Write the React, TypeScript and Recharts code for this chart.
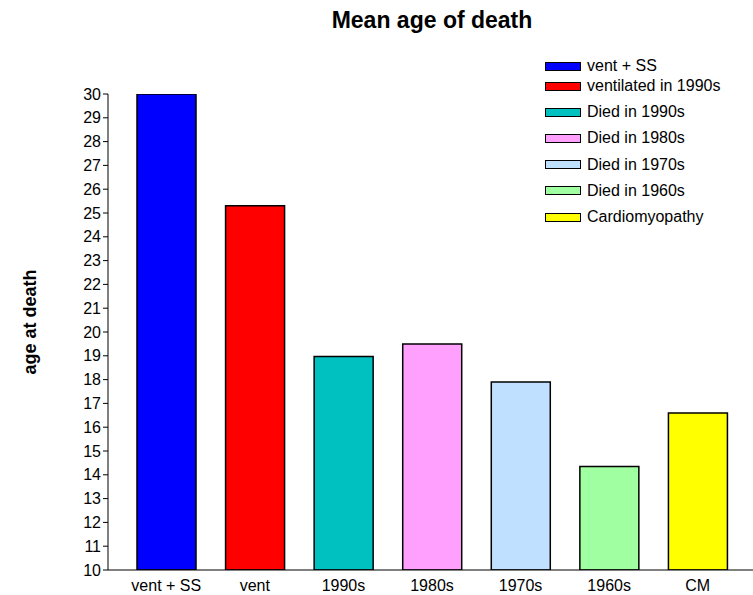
import { BarChart, Bar, XAxis, YAxis, Cell } from "recharts";

const categories = ["vent + SS", "vent", "1990s", "1980s", "1970s", "1960s", "CM"];
const meanAge = [30, 25.3, 18.97, 19.5, 17.9, 14.35, 16.6];
const legendNames = [
  "vent + SS",
  "ventilated in 1990s",
  "Died in 1990s",
  "Died in 1980s",
  "Died in 1970s",
  "Died in 1960s",
  "Cardiomyopathy",
];
const colors = ["#0000ff", "#ff0000", "#00c0c0", "#ffa0ff", "#c0e0ff", "#a0ffa0", "#ffff00"];
const yTicks = [10, 11, 12, 13, 14, 15, 16, 17, 18, 19, 20, 21, 22, 23, 24, 25, 26, 27, 28, 29, 30];

const data = categories.map((name, i) => ({ name, value: meanAge[i] }));

const FONT = "'Liberation Sans', Arial, sans-serif";

function ChartLegend() {
  return (
    <div
      style={{
        position: "absolute",
        left: 545,
        top: 56,
        fontFamily: FONT,
        fontSize: 16,
        color: "#000",
      }}
    >
      {legendNames.map((name, i) => (
        <div
          key={name}
          style={{ display: "flex", alignItems: "center", height: i === 0 ? 20 : 26.2, marginTop: i === 1 ? -3 : 0 }}
        >
          <span
            style={{
              display: "inline-block",
              width: 34,
              height: 7,
              background: colors[i],
              border: "1px solid #000",
              marginRight: 6,
            }}
          />
          <span>{name}</span>
        </div>
      ))}
    </div>
  );
}

export default function App() {
  return (
    <div style={{ position: "absolute", left: 0, top: 0, width: 753, height: 595, background: "#fff" }}>
      <BarChart
        width={753}
        height={595}
        data={data}
        margin={{ top: 94, right: 0, bottom: 0, left: 0 }}
        barSize={59}
      >
        <XAxis
          dataKey="name"
          height={25}
          tickLine={false}
          interval={0}
          padding={{ left: 14, right: 11 }}
          stroke="#000"
          tick={{ fill: "#000", fontSize: 16, fontFamily: FONT, dy: 2 }}
        />
        <YAxis
          width={108}
          domain={[10, 30]}
          ticks={yTicks}
          interval={0}
          allowDataOverflow
          tickSize={5}
          stroke="#000"
          tick={{ fill: "#000", fontSize: 16, fontFamily: FONT }}
        />
        <Bar dataKey="value" stroke="#000" strokeWidth={1.5} isAnimationActive={false}>
          {data.map((d, i) => (
            <Cell key={d.name} fill={colors[i]} />
          ))}
        </Bar>
      </BarChart>
      <div
        style={{
          position: "absolute",
          left: 0,
          width: 864,
          top: 7,
          textAlign: "center",
          fontFamily: FONT,
          fontWeight: "bold",
          fontSize: 23,
        }}
      >
        Mean age of death
      </div>
      <div
        style={{
          position: "absolute",
          left: 30,
          top: 322,
          transform: "translate(-50%, -50%) rotate(-90deg)",
          fontFamily: FONT,
          fontWeight: "bold",
          fontSize: 18,
          whiteSpace: "nowrap",
        }}
      >
        age at death
      </div>
      <ChartLegend />
    </div>
  );
}
